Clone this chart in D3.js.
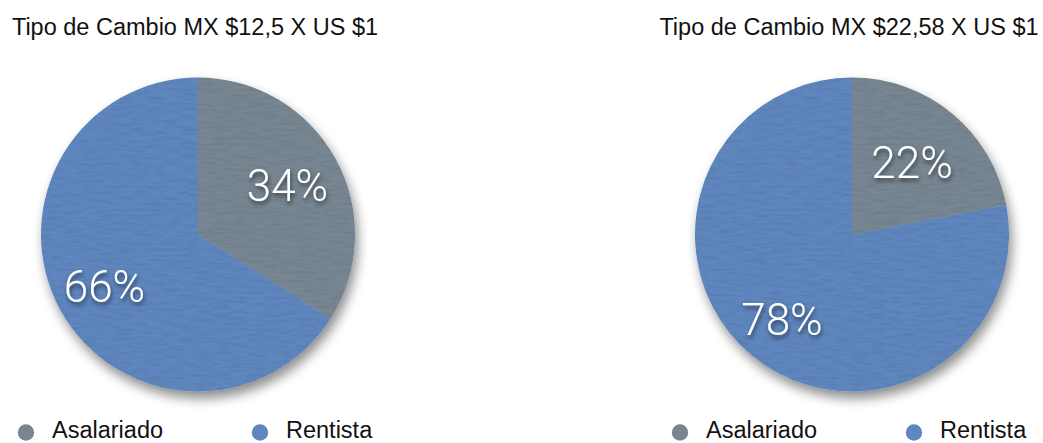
<!DOCTYPE html>
<html>
<head>
<meta charset="utf-8">
<script src="https://cdn.jsdelivr.net/npm/d3@7"></script>
<style>
  html, body { margin: 0; padding: 0; background: #ffffff; }
  svg { display: block; }
</style>
</head>
<body>
<svg id="chart" width="1043" height="443"></svg>
<script>
// ---- data ----
const categories = ["Asalariado", "Rentista"];
const titles = ["Tipo de Cambio MX $12,5 X US $1", "Tipo de Cambio MX $22,58 X US $1"];
const chart1Values = [34, 66];
const chart2Values = [22, 78];
const colors = ["#778692", "#5f86bd"];

const svg = d3.select("#chart");
const defs = svg.append("defs");

// drop shadow
const sh = defs.append("filter").attr("id", "shadow")
  .attr("x", "-20%").attr("y", "-20%").attr("width", "140%").attr("height", "150%");
sh.append("feGaussianBlur").attr("in", "SourceAlpha").attr("stdDeviation", 6).attr("result", "b");
sh.append("feOffset").attr("in", "b").attr("dx", 3).attr("dy", 7).attr("result", "o");
sh.append("feComponentTransfer").attr("in", "o").attr("result", "o2")
  .append("feFuncA").attr("type", "linear").attr("slope", 0.45);
const m = sh.append("feMerge");
m.append("feMergeNode").attr("in", "o2");
m.append("feMergeNode").attr("in", "SourceGraphic");

// subtle texture
const tx = defs.append("filter").attr("id", "texture")
  .attr("x", "0").attr("y", "0").attr("width", "100%").attr("height", "100%");
tx.append("feTurbulence").attr("type", "fractalNoise").attr("baseFrequency", "0.06 0.35")
  .attr("numOctaves", 3).attr("seed", 7).attr("result", "noise");
tx.append("feColorMatrix").attr("in", "noise").attr("type", "matrix")
  .attr("values", "0 0 0 0 0  0 0 0 0 0  0 0 0 0 0  -0.35 0 0 0 0.2").attr("result", "dark");
tx.append("feComposite").attr("in", "dark").attr("in2", "SourceGraphic").attr("operator", "in").attr("result", "darkIn");
const tm = tx.append("feMerge");
tm.append("feMergeNode").attr("in", "SourceGraphic");
tm.append("feMergeNode").attr("in", "darkIn");

// label text shadow
const ts = defs.append("filter").attr("id", "tshadow")
  .attr("x", "-20%").attr("y", "-20%").attr("width", "140%").attr("height", "160%");
ts.append("feDropShadow").attr("dx", 1).attr("dy", 3).attr("stdDeviation", 2)
  .attr("flood-color", "#000").attr("flood-opacity", 0.55);

const color = d3.scaleOrdinal().domain(categories).range(colors);
const radius = 157;
const pie = d3.pie().sort(null).value(d => d.value);
const arc = d3.arc().innerRadius(0).outerRadius(radius);

function drawPie(cx, title, values, labelFactors) {
  const g = svg.append("g");
  const data = categories.map((c, i) => ({ cat: c, value: values[i] }));
  const arcs = pie(data);
  const total = d3.sum(values);

  g.append("text")
    .attr("x", cx - 3).attr("y", 35)
    .attr("text-anchor", "middle")
    .attr("font-family", "Helvetica, 'Liberation Sans', Arial, sans-serif")
    .attr("font-size", "23.5px")
    .attr("fill", "#111")
    .text(title);

  const pg = g.append("g").attr("transform", `translate(${cx},234.5)`);
  const shadowG = pg.append("g").attr("filter", "url(#shadow)");
  const sliceG = shadowG.append("g").attr("filter", "url(#texture)");
  sliceG.selectAll("path").data(arcs).join("path")
    .attr("d", arc)
    .attr("fill", d => color(d.data.cat));

  pg.selectAll("text.lbl").data(arcs).join("text")
    .attr("class", "lbl")
    .attr("transform", (d, i) => {
      const r = radius * labelFactors[i];
      const c = d3.arc().innerRadius(r).outerRadius(r).centroid(d);
      return `translate(${c[0]},${c[1]})`;
    })
    .attr("text-anchor", "middle")
    .attr("dy", "0.36em")
    .attr("font-family", "Roboto, 'Liberation Sans', sans-serif")
    .attr("font-weight", 300)
    .attr("font-size", "44px")
    .attr("fill", "#fff")
    .attr("filter", "url(#tshadow)")
    .text(d => Math.round(d.data.value / total * 100) + "%");

  // legend
  const legX = [cx - 172, cx + 62];
  categories.forEach((c, i) => {
    const lg = g.append("g");
    lg.append("circle").attr("cx", legX[i]).attr("cy", 432.5).attr("r", 8.2).attr("fill", color(c));
    lg.append("text").attr("x", legX[i] + 26).attr("y", 437.5)
      .attr("font-family", "Helvetica, 'Liberation Sans', Arial, sans-serif")
      .attr("font-size", "23.5px").attr("fill", "#111").text(c);
  });
}

drawPie(198, titles[0], chart1Values, [0.65, 0.68]);
drawPie(852, titles[1], chart2Values, [0.6, 0.70]);
</script>
</body>
</html>
